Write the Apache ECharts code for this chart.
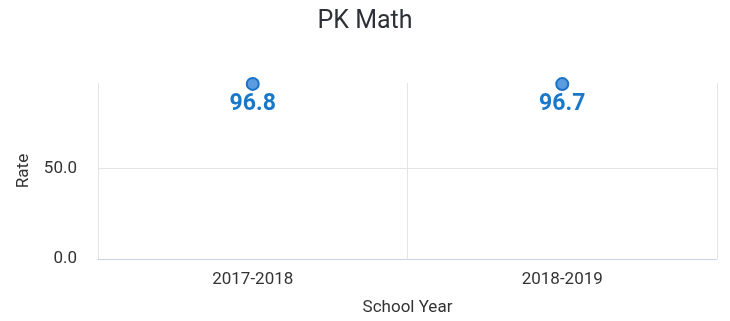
<!DOCTYPE html>
<html>
<head>
<meta charset="utf-8">
<script src="https://cdn.jsdelivr.net/npm/echarts@6/dist/echarts.min.js"></script>
<style>
  html, body { margin: 0; padding: 0; background: #fff; }
  #chart { width: 730px; height: 321px; }
</style>
</head>
<body>
<div id="chart"></div>
<script>
// School years on the x axis and the PK Math rate for each
const schoolYears = ['2017-2018', '2018-2019'];
const rates = [96.8, 96.7];

const chart = echarts.init(document.getElementById('chart'));
chart.setOption({
  animation: false,
  textStyle: { fontFamily: 'Roboto, "Helvetica Neue", Arial, sans-serif' },
  title: {
    text: 'PK Math',
    left: 'center',
    top: 4,
    textStyle: { fontSize: 25, fontWeight: 'normal', color: '#2d3035' }
  },
  grid: { left: 98, right: 13, top: 83, bottom: 61 },
  xAxis: {
    type: 'category',
    data: schoolYears,
    name: 'School Year',
    nameLocation: 'middle',
    nameGap: 40,
    nameTextStyle: { fontSize: 17, color: '#333' },
    axisLine: { lineStyle: { color: '#c9d3ea' } },
    axisTick: { show: false },
    axisLabel: { fontSize: 17, color: '#333', margin: 12 },
    splitLine: { show: true, lineStyle: { color: '#e4e4e4' } }
  },
  yAxis: {
    type: 'value',
    min: 0,
    max: 97.3,
    interval: 50,
    name: 'Rate',
    nameLocation: 'middle',
    nameGap: 66,
    nameTextStyle: { fontSize: 17, color: '#333' },
    axisLine: { show: false },
    axisTick: { show: false },
    axisLabel: {
      fontSize: 17, color: '#333', margin: 21,
      formatter: v => v.toFixed(1),
      showMaxLabel: false
    },
    splitLine: { show: true, showMaxLine: false, lineStyle: { color: '#e4e4e4' } }
  },
  series: [{
    type: 'line',
    data: rates,
    lineStyle: { width: 0 },
    symbol: 'circle',
    symbolSize: 12,
    itemStyle: { color: '#5b9be0', borderColor: '#1a72c6', borderWidth: 2 },
    label: {
      show: true,
      position: 'bottom',
      distance: 2,
      formatter: p => p.value.toFixed(1),
      fontSize: 23,
      fontWeight: 'bold',
      color: '#1a78c9'
    }
  }]
});
</script>
</body>
</html>
